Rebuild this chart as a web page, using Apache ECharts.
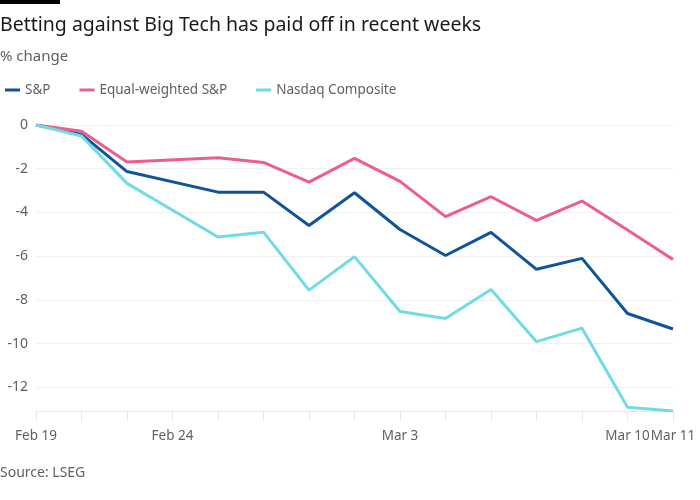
<!DOCTYPE html>
<html>
<head>
<meta charset="utf-8">
<script src="https://cdn.jsdelivr.net/npm/echarts@6/dist/echarts.min.js"></script>
<style>
  html, body { margin: 0; padding: 0; background: #fff; }
  #chart { width: 700px; height: 500px; }
</style>
</head>
<body>
<div id="chart"></div>
<script>
// trading days, Feb 19 - Mar 11
let days = ['Feb 19', 'Feb 20', 'Feb 21', 'Feb 24', 'Feb 25', 'Feb 26', 'Feb 27', 'Feb 28',
            'Mar 3', 'Mar 4', 'Mar 5', 'Mar 6', 'Mar 7', 'Mar 10', 'Mar 11'];
let shownDays = ['Feb 19', 'Feb 24', 'Mar 3', 'Mar 10', 'Mar 11'];

// % change (no point drawn on Feb 24 in the original)
let sp    = [0, -0.43, -2.13, null, -3.07, -3.07, -4.6, -3.1, -4.78, -5.97, -4.91, -6.6, -6.1, -8.62, -9.33];
let eqw   = [0, -0.29, -1.69, null, -1.5, -1.71, -2.61, -1.53, -2.58, -4.19, -3.28, -4.36, -3.48, -4.8, -6.15];
let ndq   = [0, -0.5, -2.67, null, -5.12, -4.9, -7.55, -6.02, -8.53, -8.85, -7.52, -9.91, -9.29, -12.91, -13.08];
let yTicks = [0, -2, -4, -6, -8, -10, -12];

let grey = '#66605c';
let font = '"Noto Sans", sans-serif';

let lineSeries = function (name, data, color) {
    return {
        name: name,
        type: 'line',
        data: data,
        connectNulls: true,
        symbol: 'none',
        lineStyle: { color: color, width: 3 },
        itemStyle: { color: color },
        emphasis: { disabled: true }
    };
};

let chart = echarts.init(document.getElementById('chart'));
chart.setOption({
    animation: false,
    textStyle: { fontFamily: font },
    graphic: [
        { type: 'rect', left: 0, top: 0, shape: { width: 60, height: 4 }, style: { fill: '#000' } },
        { type: 'text', left: 0, top: 15, style: { text: 'Betting against Big Tech has paid off in recent weeks', fontSize: 19.5, fill: '#1a1a1a', fontFamily: font } },
        { type: 'text', left: 0, top: 49, style: { text: '% change', fontSize: 15, fill: grey, fontFamily: font } },
        { type: 'text', left: 0, top: 466, style: { text: 'Source: LSEG', fontSize: 14, fill: grey, fontFamily: font } }
    ],
    legend: {
        left: 0,
        top: 78,
        icon: 'rect',
        itemWidth: 15,
        itemHeight: 3,
        itemGap: 29,
        textStyle: { color: grey, fontSize: 13.5 },
        data: ['S&P', 'Equal-weighted S&P', 'Nasdaq Composite']
    },
    grid: { left: 36, right: 27, top: 125, bottom: 89 },
    xAxis: {
        type: 'category',
        data: days,
        boundaryGap: false,
        axisLine: { onZero: false, lineStyle: { color: '#e9e6e3' } },
        axisTick: { interval: 0, length: 10, lineStyle: { color: '#e9e6e3' } },
        axisLabel: {
            customValues: shownDays,
            color: grey, fontSize: 13.5, margin: 18,
            hideOverlap: false, showMaxLabel: true, showMinLabel: true
        }
    },
    yAxis: {
        type: 'value',
        max: 0,
        min: function (v) { return v.min; },
        axisLine: { show: false },
        axisTick: { show: false, customValues: yTicks },
        splitLine: { lineStyle: { color: '#f2f0ee' }, customValues: yTicks },
        axisLabel: { color: grey, fontSize: 14, margin: 8, customValues: yTicks }
    },
    series: [
        lineSeries('S&P', sp, '#0f5499'),
        lineSeries('Equal-weighted S&P', eqw, '#eb5e8d'),
        lineSeries('Nasdaq Composite', ndq, '#70dbe6')
    ]
});
</script>
</body>
</html>
